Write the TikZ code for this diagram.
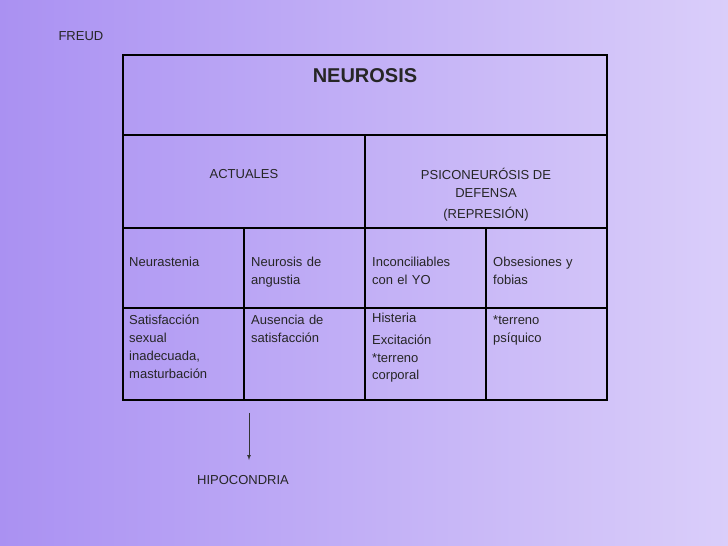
\documentclass[tikz,border=0pt]{standalone}
\usepackage{fontspec}
\setmainfont{Liberation Sans}
\definecolor{bgul}{RGB}{170,145,242}
\definecolor{bglr}{RGB}{218,206,250}
\begin{document}
\begin{tikzpicture}[x=1pt,y=-1pt,
  cell/.style={anchor=north west,align=left,text width=110pt,inner sep=0pt,font=\fontsize{13}{18}\selectfont,text=black!85},
  ctr/.style={align=center,font=\fontsize{13}{18}\selectfont,text=black!85},
  grid/.style={line width=1.6pt,black}]
\shade[left color=bgul,right color=bglr] (0,0) rectangle (728,546);
\useasboundingbox (0,0) rectangle (728,546);
\node[ctr,anchor=west] (freud) at (55,36) {FREUD};
\draw[grid] (123,55) rectangle (607,400);
\draw[grid] (123,135) -- (607,135);
\draw[grid] (123,228) -- (607,228);
\draw[grid] (123,308) -- (607,308);
\draw[grid] (365,135) -- (365,400);
\draw[grid] (244,228) -- (244,400);
\draw[grid] (486,228) -- (486,400);
\node[font=\fontsize{20}{24}\selectfont\bfseries,text=black!85] (neu) at (365,76) {NEUROSIS};
\node[ctr] (act) at (244,174) {ACTUALES};
\node[ctr] (psi) at (486,195) {PSICONEURÓSIS DE\\DEFENSA\\[3pt](REPRESIÓN)};
\node[cell] (c11) at (129,257) {Neurastenia};
\node[cell] (c12) at (251,257) {Neurosis de\\angustia};
\node[cell] (c13) at (372,257) {Inconciliables\\con el YO};
\node[cell] (c14) at (493,257) {Obsesiones y\\fobias};
\node[cell] (c21) at (129,315) {Satisfacción\\sexual\\inadecuada,\\masturbación};
\node[cell] (c22) at (251,315) {Ausencia de\\satisfacción};
\node[cell,font=\fontsize{13}{22}\selectfont] (c23) at (372,313) {Histeria\\Excitación\\[-4pt]*terreno\\[-5pt]corporal};
\node[cell] (c24) at (493,315) {*terreno\\psíquico};
\coordinate (a1) at (249,413);
\node[ctr] (hip) at (243,480) {HIPOCONDRIA};
\draw[-latex,black!80,line width=0.7pt] (a1) -- (249,460);
\end{tikzpicture}
\end{document}
